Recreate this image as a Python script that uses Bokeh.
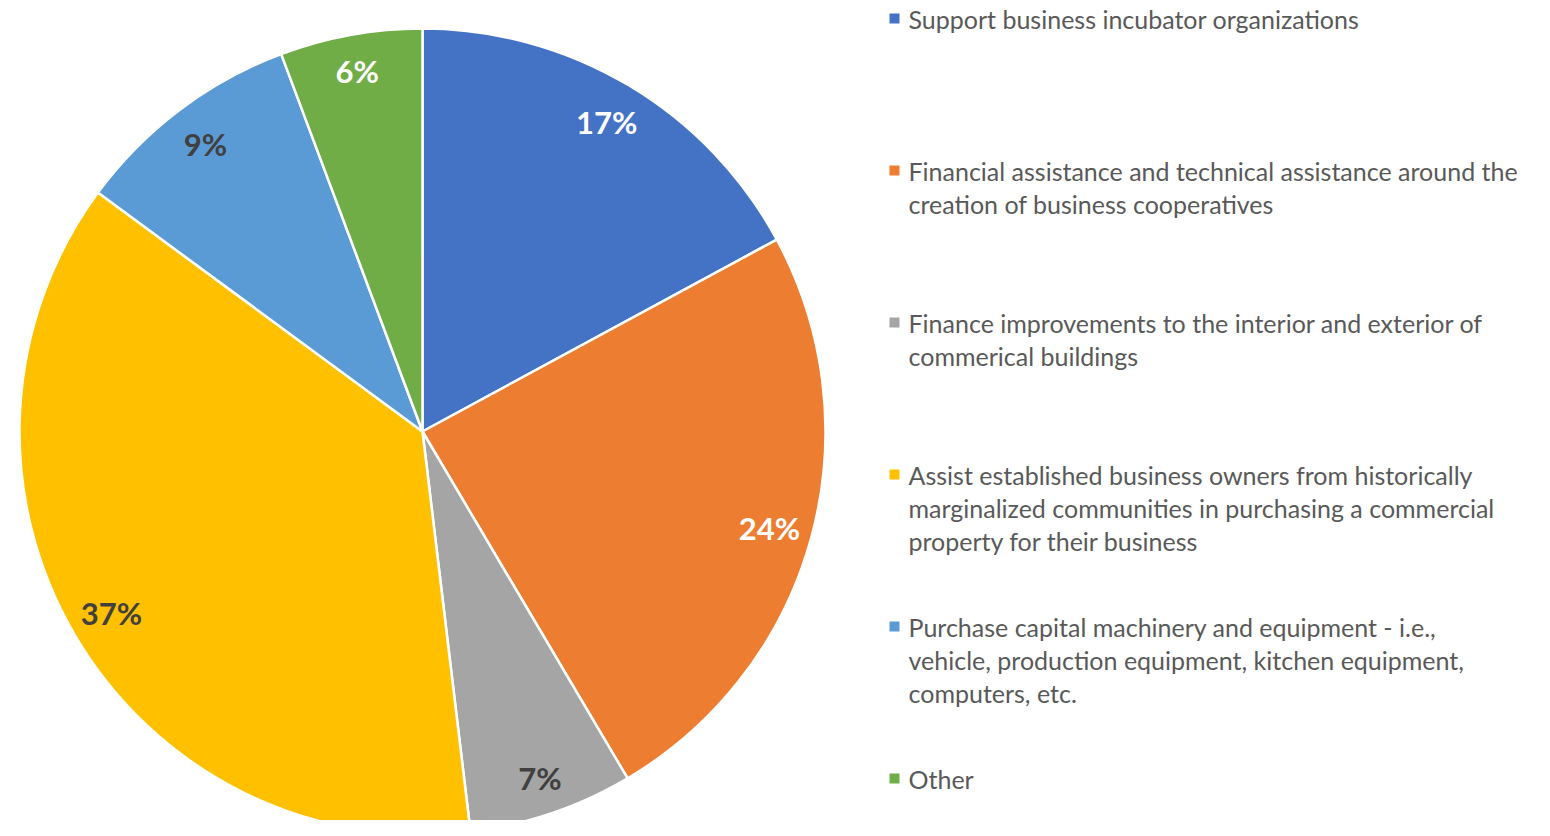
import math
from bokeh.plotting import figure
from bokeh.models import Range1d, ColumnDataSource
from bokeh.core.properties import value
from bokeh.embed import file_html
from bokeh.resources import INLINE

# ---- data ----
categories = [
    "Support business incubator organizations",
    "Financial assistance and technical assistance around the creation of business cooperatives",
    "Finance improvements to the interior and exterior of commerical buildings",
    "Assist established business owners from historically marginalized communities in purchasing a commercial property for their business",
    "Purchase capital machinery and equipment - i.e., vehicle, production equipment, kitchen equipment, computers, etc.",
    "Other",
]
legend_lines = [
    ["Support business incubator organizations"],
    ["Financial assistance and technical assistance around the", "creation of business cooperatives"],
    ["Finance improvements to the interior and exterior of", "commerical buildings"],
    ["Assist established business owners from historically",
     "marginalized communities in purchasing a commercial",
     "property for their business"],
    ["Purchase capital machinery and equipment - i.e.,",
     "vehicle, production equipment, kitchen equipment,",
     "computers, etc."],
    ["Other"],
]
shares = [17.1, 24.4, 6.6, 37.0, 9.2, 5.7]
colors = ["#4472C4", "#ED7D31", "#A5A5A5", "#FFC000", "#5B9BD5", "#70AD47"]
label_colors = ["#FFFFFF", "#FFFFFF", "#404040", "#404040", "#404040", "#FFFFFF"]

W, H = 1534, 820
p = figure(width=W, height=H, output_backend="svg", toolbar_location=None,
           x_range=Range1d(0, W), y_range=Range1d(0, H), min_border=0)
p.axis.visible = False
p.grid.visible = False
p.outline_line_color = None
p.background_fill_color = "white"

cx, cy, R = 422, 389, 403
total = sum(shares)
starts, ends, lx, ly, ltxt = [], [], [], [], []
cum = 0.0
for v in shares:
    a0 = math.pi / 2 - 2 * math.pi * cum / total
    cum += v
    a1 = math.pi / 2 - 2 * math.pi * cum / total
    starts.append(a0)
    ends.append(a1)
    mid = (a0 + a1) / 2
    rr = 360 if v > 8 else 366
    lx.append(cx + rr * math.cos(mid))
    ly.append(cy + rr * math.sin(mid))
    ltxt.append(f"{v:.0f}%")

src = ColumnDataSource(dict(start=starts, end=ends, color=colors,
                            lx=lx, ly=ly, txt=ltxt, tc=label_colors))
p.wedge(x=cx, y=cy, radius=R, start_angle="start", end_angle="end",
        direction="clock", fill_color="color", line_color="white",
        line_width=2.5, source=src)
p.text(x="lx", y="ly", text="txt", text_color="tc", source=src,
       text_font=value("Lato"), text_font_style="bold",
       text_font_size="31px", text_align="center", text_baseline="middle")

# ---- legend ----
leg_x, leg_top, leg_step, line_h = 894, 802, 152, 33
mx, my, tx, ty, tt = [], [], [], [], []
for i, lines in enumerate(legend_lines):
    y0 = leg_top - i * leg_step
    mx.append(leg_x)
    my.append(y0)
    for j, ln in enumerate(lines):
        tx.append(leg_x + 14)
        ty.append(y0 - j * line_h)
        tt.append(ln)
p.scatter(x=mx, y=my, marker="square", size=10, fill_color=colors,
          line_color=None)
p.text(x=tx, y=ty, text=tt, text_color="#595959",
       text_font=value("Lato"), text_font_size="25px",
       text_align="left", text_baseline="middle")

open("out.html", "w").write(file_html(p, INLINE))
